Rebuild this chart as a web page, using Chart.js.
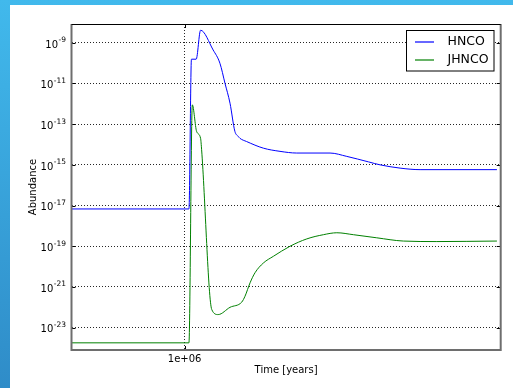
<!DOCTYPE html>
<html>
<head>
<meta charset="utf-8">
<script src="https://cdn.jsdelivr.net/npm/chart.js@4"></script>
<style>
  html, body { margin: 0; padding: 0; }
  body {
    width: 513px; height: 388px; overflow: hidden; position: relative;
    background: linear-gradient(to bottom, #41b9ec, #2f8cc8);
  }
  #wrap { position: absolute; left: 10px; top: 5px; width: 503px; height: 383px; background: #fff; }
</style>
</head>
<body>
<div id="wrap"><canvas id="chart" width="503" height="383"></canvas></div>
<script>
const hncoTime = [6.03e5, 1.0195e6, 1.031e6, 1.053e6, 1.074e6, 1.136e6, 1.171e6, 1.198e6, 1.225e6, 1.252e6,
  1.271e6, 1.281e6, 1.319e6, 1.422e6, 1.532e6, 1.651e6, 1.916e6, 2.065e6, 2.275e6, 2.396e6, 2.621e6, 2.866e6, 4.041e6];
const hncoAbundance = [6.8e-18, 6.8e-18, 1.55e-10, 1.55e-10, 4.1e-9, 4.4e-10, 9.8e-11, 1.0e-11, 1.07e-12, 4.4e-14,
  2.5e-14, 2.0e-14, 1.4e-14, 6.6e-15, 4.6e-15, 3.8e-15, 3.8e-15, 2.6e-15, 1.4e-15, 1.0e-15, 6.9e-16, 5.8e-16, 5.8e-16];

const jhncoTime = [6.03e5, 1.0195e6, 1.035e6, 1.055e6, 1.074e6, 1.079e6, 1.129e6, 1.162e6, 1.225e6, 1.291e6,
  1.310e6, 1.340e6, 1.370e6, 1.422e6, 1.487e6, 1.602e6, 1.727e6, 1.860e6, 1.975e6, 2.127e6, 2.361e6, 2.660e6, 3.089e6, 4.041e6];
const jhncoAbundance = [1.8e-24, 1.8e-24, 8.9e-13, 4.4e-14, 2.0e-14, 5.5e-15, 7.8e-23, 4.4e-23, 1.0e-22, 1.8e-22,
  3.5e-22, 1.6e-21, 5.0e-21, 1.5e-20, 3.2e-20, 1.0e-19, 2.3e-19, 3.7e-19, 4.6e-19, 3.7e-19, 2.6e-19, 1.8e-19, 1.7e-19, 1.8e-19];

const seriesNames = ['HNCO', 'JHNCO'];
const seriesColors = ['#0000ff', '#008000'];

const xTicks = [1e6];
const xTickLabels = ['1e+06'];
const yTicks = [1e-9, 1e-11, 1e-13, 1e-15, 1e-17, 1e-19, 1e-21, 1e-23];
const yTickExponents = ['-9', '-11', '-13', '-15', '-17', '-19', '-21', '-23'];

const FONT = "'DejaVu Sans', sans-serif";

// frame, inner ticks, y tick labels with exponents, axis titles and the legend box
const decorations = {
  id: 'decorations',
  afterDatasetsDraw(chart) {
    const { ctx, chartArea: a, scales } = chart;
    ctx.save();

    // inner tick marks
    ctx.strokeStyle = '#000';
    ctx.lineWidth = 1;
    ctx.beginPath();
    yTicks.forEach(v => {
      const y = Math.round(scales.y.getPixelForValue(v)) + 0.5;
      ctx.moveTo(a.left, y); ctx.lineTo(a.left + 4, y);
      ctx.moveTo(a.right, y); ctx.lineTo(a.right - 4, y);
    });
    xTicks.forEach(v => {
      const x = Math.round(scales.x.getPixelForValue(v)) + 0.5;
      ctx.moveTo(x, a.bottom); ctx.lineTo(x, a.bottom - 4);
      ctx.moveTo(x, a.top); ctx.lineTo(x, a.top + 4);
    });
    ctx.stroke();

    // frame
    ctx.strokeStyle = '#6e6e6e';
    ctx.lineWidth = 2;
    ctx.beginPath();
    ctx.moveTo(a.left, a.top);
    ctx.lineTo(a.left, a.bottom);
    ctx.lineTo(a.right, a.bottom);
    ctx.lineTo(a.right, a.top);
    ctx.stroke();
    ctx.strokeStyle = '#000';
    ctx.lineWidth = 1;
    ctx.beginPath();
    ctx.moveTo(a.left, a.top + 0.5);
    ctx.lineTo(a.right, a.top + 0.5);
    ctx.stroke();

    // y tick labels: 10 with a raised exponent
    ctx.fillStyle = '#000';
    ctx.textAlign = 'right';
    ctx.textBaseline = 'alphabetic';
    yTicks.forEach((v, i) => {
      const y = scales.y.getPixelForValue(v);
      const right = a.left - 5.5;
      ctx.font = '7.5px ' + FONT;
      const ew = ctx.measureText(yTickExponents[i]).width;
      ctx.fillText(yTickExponents[i], right, y - 0.5);
      ctx.font = '10px ' + FONT;
      ctx.fillText('10', right - ew - 0.5, y + 4.8);
    });

    // axis titles
    ctx.font = '10px ' + FONT;
    ctx.textAlign = 'center';
    ctx.textBaseline = 'middle';
    ctx.fillText('Time [years]', (a.left + a.right) / 2, 365.5);
    ctx.save();
    ctx.translate(23, (a.top + a.bottom) / 2);
    ctx.rotate(-Math.PI / 2);
    ctx.fillText('Abundance', 0, 0);
    ctx.restore();

    // legend
    const bx = 396.5, by = 25.5, bw = 87.5, bh = 40.5;
    ctx.fillStyle = '#fff';
    ctx.fillRect(bx, by, bw, bh);
    ctx.strokeStyle = '#000';
    ctx.lineWidth = 1;
    ctx.strokeRect(bx, by, bw, bh);
    ctx.font = '12.5px ' + FONT;
    ctx.textAlign = 'left';
    seriesNames.forEach((name, i) => {
      const y = 36.5 + i * 18;
      ctx.strokeStyle = seriesColors[i];
      ctx.lineWidth = 1.2;
      ctx.beginPath();
      ctx.moveTo(405, y + 0.5); ctx.lineTo(424, y + 0.5);
      ctx.stroke();
      ctx.fillStyle = '#000';
      ctx.fillText(name, 437.5, y);
    });
    ctx.restore();
  }
};

function renderChart() {
  const toPoints = (xs, ys) => xs.map((x, i) => ({ x, y: ys[i] }));
  new Chart(document.getElementById('chart'), {
    type: 'line',
    plugins: [decorations],
    data: {
      datasets: [
        { label: seriesNames[0], data: toPoints(hncoTime, hncoAbundance), borderColor: seriesColors[0] },
        { label: seriesNames[1], data: toPoints(jhncoTime, jhncoAbundance), borderColor: seriesColors[1] },
      ].map(ds => Object.assign(ds, {
        borderWidth: 1,
        pointRadius: 0,
        fill: false,
        cubicInterpolationMode: 'monotone',
      })),
    },
    options: {
      responsive: false,
      animation: false,
      devicePixelRatio: 1,
      layout: { padding: { top: 19, right: 12.3, left: 0, bottom: 0 } },
      plugins: { legend: { display: false }, tooltip: { enabled: false }, title: { display: false } },
      scales: {
        x: {
          type: 'logarithmic',
          min: 6.03e5,
          max: 4.11e6,
          afterBuildTicks: s => { s.ticks = xTicks.map(v => ({ value: v })); },
          afterFit: s => { s.height = 38; },
          ticks: {
            autoSkip: false,
            maxRotation: 0,
            padding: 3,
            color: '#000',
            font: { family: FONT, size: 10 },
            callback: v => xTickLabels[xTicks.indexOf(v)] ?? '',
          },
          grid: { color: 'rgba(0,0,0,0.85)', lineWidth: 1, drawTicks: false },
          border: { display: false, dash: [1, 2] },
        },
        y: {
          type: 'logarithmic',
          min: 8.3e-25,
          max: 8.3e-9,
          afterBuildTicks: s => { s.ticks = yTicks.map(v => ({ value: v })); },
          afterFit: s => { s.width = 61.5; },
          ticks: {
            autoSkip: false,
            color: '#000',
            font: { family: FONT, size: 10 },
            callback: () => '',
          },
          grid: { color: 'rgba(0,0,0,0.85)', lineWidth: 1, drawTicks: false },
          border: { display: false, dash: [1, 2] },
        },
      },
    },
  });
}

document.addEventListener('DOMContentLoaded', renderChart);
</script>
</body>
</html>
